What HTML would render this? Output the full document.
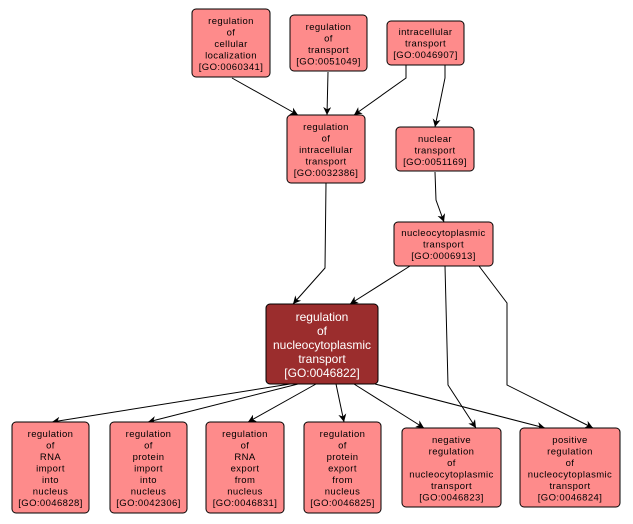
<!DOCTYPE html>
<html><head><style>
body{margin:0;background:#fff}
svg{display:block}
.b{fill:#fe8b8b;stroke:#000;stroke-width:1}
.t{font-family:"Liberation Sans",sans-serif;font-size:9.5px;letter-spacing:0.4px;text-anchor:middle;fill:#000}
.m{font-family:"Liberation Sans",sans-serif;font-size:12px;text-anchor:middle;fill:#fff}
.e{fill:none;stroke:#000;stroke-width:1}
</style></head><body>
<svg width="633" height="524" viewBox="0 0 633 524" xmlns="http://www.w3.org/2000/svg">
<defs><marker id="a" viewBox="0 0 10 10" refX="10" refY="5" markerWidth="8" markerHeight="8" orient="auto" markerUnits="userSpaceOnUse"><path d="M0,0 L10,5 L0,10 L3,5 z" fill="#000"/></marker></defs>
<g class="e" marker-end="url(#a)">
<path d="M232,78 L298,115"/>
<path d="M328,72 L327,115"/>
<path d="M406,65 L406,78 L354,115"/>
<path d="M445,65 L445,78 L435,127"/>
<path d="M435,172 L436,200 L444,222"/>
<path d="M326,183 L325,268 L293,304"/>
<path d="M410,266 L350,304"/>
<path d="M445,266 L448,385 L476,428"/>
<path d="M479,266 L507,303 L507,385 L593,428"/>
<path d="M290,384 L52,422"/>
<path d="M298,384 L148,422"/>
<path d="M316,384 L248,422"/>
<path d="M336,384 L344,422"/>
<path d="M354,384 L424,428"/>
<path d="M375,384 L545,428"/>
</g>
<rect class="b" x="192" y="9" width="78" height="68" rx="4"/>
<text class="t"><tspan x="231" y="24">regulation</tspan><tspan x="231" y="35.5">of</tspan><tspan x="231" y="47">cellular</tspan><tspan x="231" y="58.5">localization</tspan><tspan x="231" y="70">[GO:0060341]</tspan></text>
<rect class="b" x="290" y="15" width="77" height="56" rx="4"/>
<text class="t"><tspan x="328.5" y="30">regulation</tspan><tspan x="328.5" y="41.5">of</tspan><tspan x="328.5" y="53">transport</tspan><tspan x="328.5" y="64.5">[GO:0051049]</tspan></text>
<rect class="b" x="387" y="21" width="77" height="44" rx="4"/>
<text class="t"><tspan x="425.5" y="35">intracellular</tspan><tspan x="425.5" y="46.5">transport</tspan><tspan x="425.5" y="58">[GO:0046907]</tspan></text>
<rect class="b" x="287" y="115" width="78" height="68" rx="4"/>
<text class="t"><tspan x="326" y="130">regulation</tspan><tspan x="326" y="141.5">of</tspan><tspan x="326" y="153">intracellular</tspan><tspan x="326" y="164.5">transport</tspan><tspan x="326" y="176">[GO:0032386]</tspan></text>
<rect class="b" x="396" y="127" width="78" height="44" rx="4"/>
<text class="t"><tspan x="435" y="142">nuclear</tspan><tspan x="435" y="153.5">transport</tspan><tspan x="435" y="165">[GO:0051169]</tspan></text>
<rect class="b" x="394" y="222" width="99" height="44" rx="4"/>
<text class="t"><tspan x="443.5" y="236">nucleocytoplasmic</tspan><tspan x="443.5" y="247.5">transport</tspan><tspan x="443.5" y="259">[GO:0006913]</tspan></text>
<rect x="266" y="304" width="112" height="80" rx="4" fill="#9b2d2d" stroke="#000"/>
<text class="m"><tspan x="322" y="321">regulation</tspan><tspan x="322" y="335">of</tspan><tspan x="322" y="349">nucleocytoplasmic</tspan><tspan x="322" y="363">transport</tspan><tspan x="322" y="377">[GO:0046822]</tspan></text>
<rect class="b" x="12" y="422" width="77" height="91" rx="4"/>
<text class="t"><tspan x="50.5" y="437">regulation</tspan><tspan x="50.5" y="448.5">of</tspan><tspan x="50.5" y="460">RNA</tspan><tspan x="50.5" y="471.5">import</tspan><tspan x="50.5" y="483">into</tspan><tspan x="50.5" y="494.5">nucleus</tspan><tspan x="50.5" y="506">[GO:0046828]</tspan></text>
<rect class="b" x="110" y="422" width="77" height="91" rx="4"/>
<text class="t"><tspan x="148.5" y="437">regulation</tspan><tspan x="148.5" y="448.5">of</tspan><tspan x="148.5" y="460">protein</tspan><tspan x="148.5" y="471.5">import</tspan><tspan x="148.5" y="483">into</tspan><tspan x="148.5" y="494.5">nucleus</tspan><tspan x="148.5" y="506">[GO:0042306]</tspan></text>
<rect class="b" x="206" y="422" width="78" height="91" rx="4"/>
<text class="t"><tspan x="245" y="437">regulation</tspan><tspan x="245" y="448.5">of</tspan><tspan x="245" y="460">RNA</tspan><tspan x="245" y="471.5">export</tspan><tspan x="245" y="483">from</tspan><tspan x="245" y="494.5">nucleus</tspan><tspan x="245" y="506">[GO:0046831]</tspan></text>
<rect class="b" x="304" y="422" width="77" height="91" rx="4"/>
<text class="t"><tspan x="342.5" y="437">regulation</tspan><tspan x="342.5" y="448.5">of</tspan><tspan x="342.5" y="460">protein</tspan><tspan x="342.5" y="471.5">export</tspan><tspan x="342.5" y="483">from</tspan><tspan x="342.5" y="494.5">nucleus</tspan><tspan x="342.5" y="506">[GO:0046825]</tspan></text>
<rect class="b" x="402" y="428" width="99" height="79" rx="4"/>
<text class="t"><tspan x="451.5" y="443">negative</tspan><tspan x="451.5" y="454.5">regulation</tspan><tspan x="451.5" y="466">of</tspan><tspan x="451.5" y="477.5">nucleocytoplasmic</tspan><tspan x="451.5" y="489">transport</tspan><tspan x="451.5" y="500.5">[GO:0046823]</tspan></text>
<rect class="b" x="520" y="428" width="100" height="79" rx="4"/>
<text class="t"><tspan x="570" y="443">positive</tspan><tspan x="570" y="454.5">regulation</tspan><tspan x="570" y="466">of</tspan><tspan x="570" y="477.5">nucleocytoplasmic</tspan><tspan x="570" y="489">transport</tspan><tspan x="570" y="500.5">[GO:0046824]</tspan></text>
</svg>
</body></html>
